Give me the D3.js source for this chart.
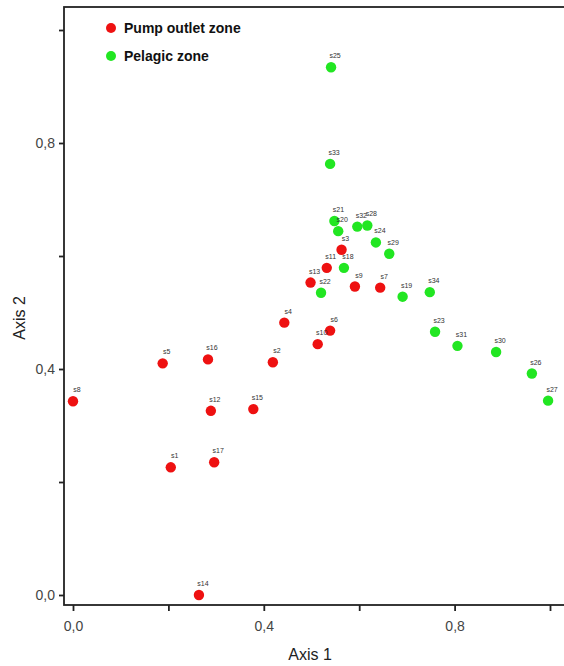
<!DOCTYPE html>
<html>
<head>
<meta charset="utf-8">
<script src="https://cdn.jsdelivr.net/npm/d3@7"></script>
<style>
	body { margin: 0; background: #fff; }
	svg { display: block; font-family: "Liberation Sans", Arial, sans-serif; }
</style>
</head>
<body>
<div id="chart"></div>
<script>
// Sample scores
const pumpNames = ["s8", "s5", "s16", "s2", "s12", "s15", "s1", "s17", "s14", "s4", "s6", "s10", "s13", "s11", "s3", "s9", "s7"];
const pumpAxis1 = [0.000, 0.188, 0.283, 0.419, 0.289, 0.378, 0.205, 0.296, 0.264, 0.443, 0.539, 0.513, 0.498, 0.532, 0.563, 0.591, 0.644];
const pumpAxis2 = [0.343, 0.410, 0.417, 0.412, 0.326, 0.329, 0.226, 0.235, 0.000, 0.482, 0.468, 0.444, 0.553, 0.579, 0.611, 0.546, 0.544];

const pelagicNames = ["s25", "s33", "s21", "s20", "s32", "s28", "s24", "s29", "s18", "s22", "s19", "s34", "s23", "s31", "s30", "s26", "s27"];
const pelagicAxis1 = [0.541, 0.539, 0.548, 0.556, 0.596, 0.617, 0.635, 0.663, 0.568, 0.520, 0.691, 0.748, 0.759, 0.806, 0.887, 0.962, 0.996];
const pelagicAxis2 = [0.934, 0.763, 0.662, 0.644, 0.652, 0.654, 0.624, 0.604, 0.579, 0.535, 0.528, 0.536, 0.466, 0.441, 0.430, 0.392, 0.344];

const groups = ["Pump outlet zone", "Pelagic zone"];
const groupColors = ["#ee1111", "#22e622"];
const tickValues = [0, 0.2, 0.4, 0.6, 0.8, 1.0];
const labelledTicks = [0, 0.4, 0.8];

const width = 564;
const height = 666;

const x = d3.scaleLinear().domain([0, 1]).range([73, 550]);
const y = d3.scaleLinear().domain([0, 1]).range([595, 30]);

const svg = d3.select("#chart")
	.append("svg")
	.attr("width", width)
	.attr("height", height);

// Frame (right side runs past the picture edge)
const frame = {left: 64, top: 7, bottom: 605, right: 580};
svg.append("rect")
	.attr("x", frame.left)
	.attr("y", frame.top)
	.attr("width", frame.right - frame.left)
	.attr("height", frame.bottom - frame.top)
	.attr("fill", "none")
	.attr("stroke", "#222")
	.attr("stroke-width", 1.8);

const fmt = d => labelledTicks.some(v => Math.abs(v - d) < 1e-9) ? d3.format(".1f")(d).replace(".", ",") : "";

// Axes
const xAxis = svg.append("g")
	.attr("transform", `translate(0,${frame.bottom})`)
	.call(d3.axisBottom(x).tickValues(tickValues).tickSize(6).tickPadding(10).tickFormat(fmt));
xAxis.select(".domain").remove();

const yAxis = svg.append("g")
	.attr("transform", `translate(${frame.left},0)`)
	.call(d3.axisLeft(y).tickValues(tickValues).tickSize(5).tickPadding(4).tickFormat(fmt));
yAxis.select(".domain").remove();

svg.selectAll(".tick line").attr("stroke", "#222").attr("stroke-width", 1.8);
svg.selectAll(".tick text")
	.attr("fill", "#444")
	.attr("font-size", "14px")
	.attr("font-family", "\"Liberation Sans\", Arial, sans-serif");

// Axis titles
svg.append("text")
	.attr("x", 310)
	.attr("y", 660)
	.attr("text-anchor", "middle")
	.attr("font-size", "16px")
	.attr("fill", "#222")
	.text("Axis 1");

svg.append("text")
	.attr("transform", "rotate(-90)")
	.attr("x", -318)
	.attr("y", 25)
	.attr("text-anchor", "middle")
	.attr("font-size", "16px")
	.attr("fill", "#222")
	.text("Axis 2");

// Points
const series = [
	{names: pumpNames, a1: pumpAxis1, a2: pumpAxis2, color: groupColors[0]},
	{names: pelagicNames, a1: pelagicAxis1, a2: pelagicAxis2, color: groupColors[1]},
];

for (const s of series) {
	const pts = s.names.map((n, i) => ({name: n, x: s.a1[i], y: s.a2[i]}));
	const g = svg.append("g");
	g.selectAll("circle")
		.data(pts)
		.join("circle")
		.attr("cx", d => x(d.x))
		.attr("cy", d => y(d.y))
		.attr("r", 5.2)
		.attr("fill", s.color);
	g.selectAll("text")
		.data(pts)
		.join("text")
		.attr("x", d => x(d.x) + 4)
		.attr("y", d => y(d.y) - 9)
		.attr("text-anchor", "middle")
		.attr("font-size", "7px")
		.attr("fill", "#333")
		.text(d => d.name);
}

// Legend
const legend = svg.append("g");
groups.forEach((name, i) => {
	legend.append("circle")
		.attr("cx", 111)
		.attr("cy", 28 + i * 28)
		.attr("r", 5)
		.attr("fill", groupColors[i]);
	legend.append("text")
		.attr("x", 124)
		.attr("y", 33 + i * 28)
		.attr("font-size", "14px")
		.attr("font-weight", "bold")
		.attr("fill", "#111")
		.text(name);
});
</script>
</body>
</html>
